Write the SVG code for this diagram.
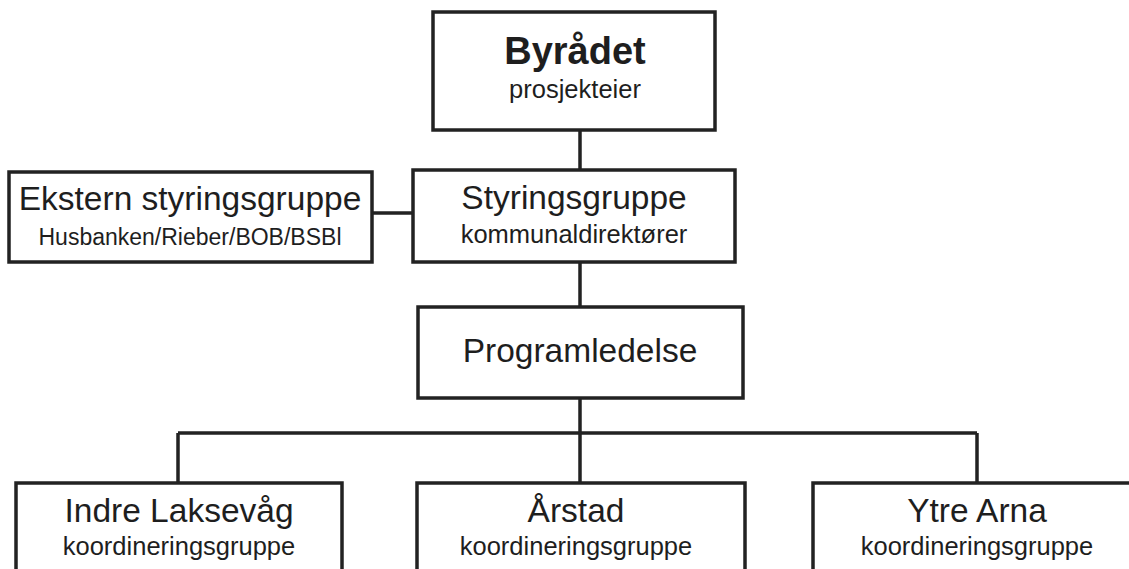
<svg xmlns="http://www.w3.org/2000/svg" width="1129" height="569" viewBox="0 0 1129 569">
<style>
.box{fill:#fff;stroke:#222;stroke-width:3.5}
.ln{fill:none;stroke:#222;stroke-width:3.5}
text{font-family:"Liberation Sans",Arial,sans-serif;fill:#1e1e1e;text-anchor:middle}
.t{font-size:33.5px}
.s{font-size:25.5px}
.b{font-size:38px;font-weight:bold}
</style>
<rect width="1129" height="569" fill="#fff"/>
<g id="connectors">
<path class="ln" d="M580,130V170M580,262V307M580,398V433M178,433H977M178,433V483M580,433V483M977,433V483M372,213H413"/>
</g>
<g id="byradet">
<rect class="box" x="433" y="12" width="282" height="118"/>
<text class="b" x="575" y="64">Byrådet</text>
<text class="s" x="575" y="98">prosjekteier</text>
</g>
<g id="ekstern">
<rect class="box" x="9" y="172" width="363" height="90"/>
<text class="t" x="190" y="210">Ekstern styringsgruppe</text>
<text class="s" x="190" y="245" style="font-size:23px">Husbanken/Rieber/BOB/BSBl</text>
</g>
<g id="styringsgruppe">
<rect class="box" x="413" y="170" width="322" height="92"/>
<text class="t" x="574" y="209">Styringsgruppe</text>
<text class="s" x="574" y="243">kommunaldirektører</text>
</g>
<g id="programledelse">
<rect class="box" x="418" y="307" width="325" height="91"/>
<text class="t" x="580" y="362">Programledelse</text>
</g>
<g id="indre">
<rect class="box" x="16" y="483" width="326" height="100"/>
<text class="t" x="179" y="522">Indre Laksevåg</text>
<text class="s" x="179" y="555">koordineringsgruppe</text>
</g>
<g id="arstad">
<rect class="box" x="417" y="483" width="328" height="100"/>
<text class="t" x="576" y="522">Årstad</text>
<text class="s" x="576" y="555">koordineringsgruppe</text>
</g>
<g id="ytre">
<rect class="box" x="813" y="483" width="330" height="100"/>
<text class="t" x="977" y="522">Ytre Arna</text>
<text class="s" x="977" y="555">koordineringsgruppe</text>
</g>
</svg>
